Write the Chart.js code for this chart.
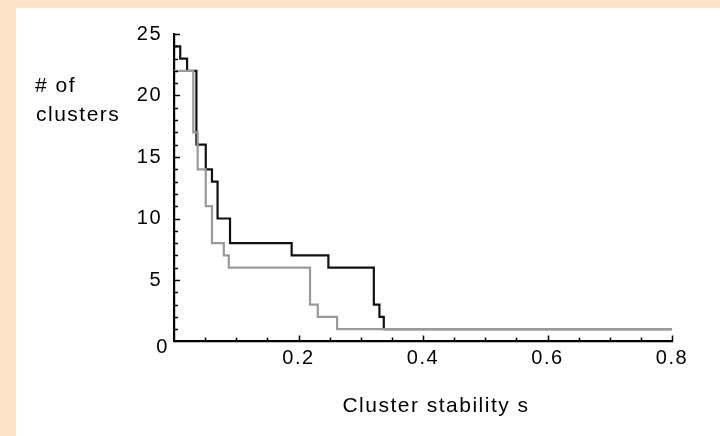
<!DOCTYPE html>
<html>
<head>
<meta charset="utf-8">
<script src="https://cdn.jsdelivr.net/npm/chart.js@4/dist/chart.umd.min.js"></script>
<style>
  html, body { margin: 0; padding: 0; background: #fde4c8; width: 720px; height: 436px; overflow: hidden; }
  #panel { position: absolute; left: 16px; top: 8px; width: 704px; height: 428px; background: #ffffff; }
  canvas { display: block; }
</style>
</head>
<body>
<div id="panel"><canvas id="c" width="704" height="428"></canvas></div>
<script>
// Data (step curves: value changes at each s)
const blackS = [0, 0.010, 0.021, 0.036, 0.051, 0.061, 0.070, 0.090, 0.189, 0.248, 0.321, 0.330, 0.337, 0.8];
const blackN = [24, 23, 22, 16, 14, 13, 10, 8, 7, 6, 3, 2, 1, 1];
const grayS  = [0, 0.031, 0.038, 0.051, 0.061, 0.080, 0.088, 0.2185, 0.231, 0.262, 0.8];
const grayN  = [22, 17, 14, 11, 8, 7, 6, 3, 2, 1, 1];
const xTickLabels = ['0.2', '0.4', '0.6', '0.8'];
const yTickLabels = ['5', '10', '15', '20', '25'];
const xAxisTitle = 'Cluster stability s';
const yAxisTitleLines = ['# of', 'clusters'];
const originLabel = '0';

const FONT = '"Liberation Sans", Arial, Helvetica, sans-serif';
Chart.defaults.font.family = FONT;
Chart.defaults.font.size = 20;
Chart.defaults.color = '#000';

const toPts = (xs, ys) => xs.map((v, i) => ({ x: v, y: ys[i] }));

const deco = {
  id: 'deco',
  beforeDraw(chart) { chart.ctx.letterSpacing = '1.5px'; },
  afterDraw(chart) {
    const { ctx, chartArea: a, scales: { x, y } } = chart;
    ctx.save();
    ctx.strokeStyle = '#000';
    ctx.lineWidth = 1.5;
    ctx.beginPath();
    x.ticks.forEach(t => {
      const px = Math.round(x.getPixelForValue(t.value)) + 0.5;
      const len = t.label ? 6 : 4;
      if (t.value === 0) return;
      ctx.moveTo(px, a.bottom);
      ctx.lineTo(px, a.bottom - len);
    });
    y.ticks.forEach(t => {
      const py = Math.round(y.getPixelForValue(t.value)) + 0.5;
      const len = t.label ? 6 : 4;
      if (t.value === 0) return;
      ctx.moveTo(a.left, py);
      ctx.lineTo(a.left + len, py);
    });
    ctx.stroke();
    ctx.fillStyle = '#000';
    ctx.letterSpacing = '1.5px';
    ctx.font = '20px ' + FONT;
    ctx.textAlign = 'center';
    ctx.textBaseline = 'middle';
    ctx.fillText(originLabel, x.getPixelForValue(0) - 11.5, y.getPixelForValue(0) + 5.5);
    ctx.font = '21px ' + FONT;
    ctx.textAlign = 'left';
    ctx.textBaseline = 'alphabetic';
    ctx.fillText(yAxisTitleLines[0], 19, 84);
    ctx.fillText(yAxisTitleLines[1], 20, 113);
    ctx.font = '21px ' + FONT;
    ctx.textAlign = 'center';
    ctx.fillText(xAxisTitle, 420, 404);
    ctx.restore();
  }
};

new Chart(document.getElementById('c'), {
  type: 'scatter',
  data: {
    datasets: [
      { label: 'gray', data: toPts(grayS, grayN), showLine: true, stepped: 'before', order: 0,
        borderColor: '#9a9a9a', borderWidth: 2.2, pointRadius: 0, fill: false },
      { label: 'black', data: toPts(blackS, blackN), showLine: true, stepped: 'before', order: 1,
        borderColor: '#111111', borderWidth: 2.2, pointRadius: 0, fill: false }
    ]
  },
  options: {
    responsive: false,
    animation: false,
    events: [],
    layout: { padding: { top: 26, right: 48, bottom: 0, left: 0 } },
    plugins: { legend: { display: false }, tooltip: { enabled: false } },
    scales: {
      x: {
        type: 'linear', min: 0, max: 0.8,
        grid: { display: false, drawTicks: false },
        border: { display: true, color: '#000', width: 2.2 },
        ticks: {
          stepSize: 0.05, autoSkip: false, maxRotation: 0, padding: 5,
          callback: (v) => {
            const k = v / 0.2;
            if (v > 0 && Math.abs(k - Math.round(k)) < 1e-6) return xTickLabels[Math.round(k) - 1];
            return '';
          }
        },
        afterFit: (s) => { s.height = 94.5; }
      },
      y: {
        type: 'linear', min: 0, max: 25,
        grid: { display: false, drawTicks: false },
        border: { display: true, color: '#000', width: 2.2 },
        ticks: {
          stepSize: 1, autoSkip: false, padding: 12,
          callback: (v) => (v > 0 && v % 5 === 0) ? yTickLabels[v / 5 - 1] : ''
        },
        afterFit: (s) => { s.width = 158; }
      }
    }
  },
  plugins: [deco]
});
</script>
</body>
</html>
